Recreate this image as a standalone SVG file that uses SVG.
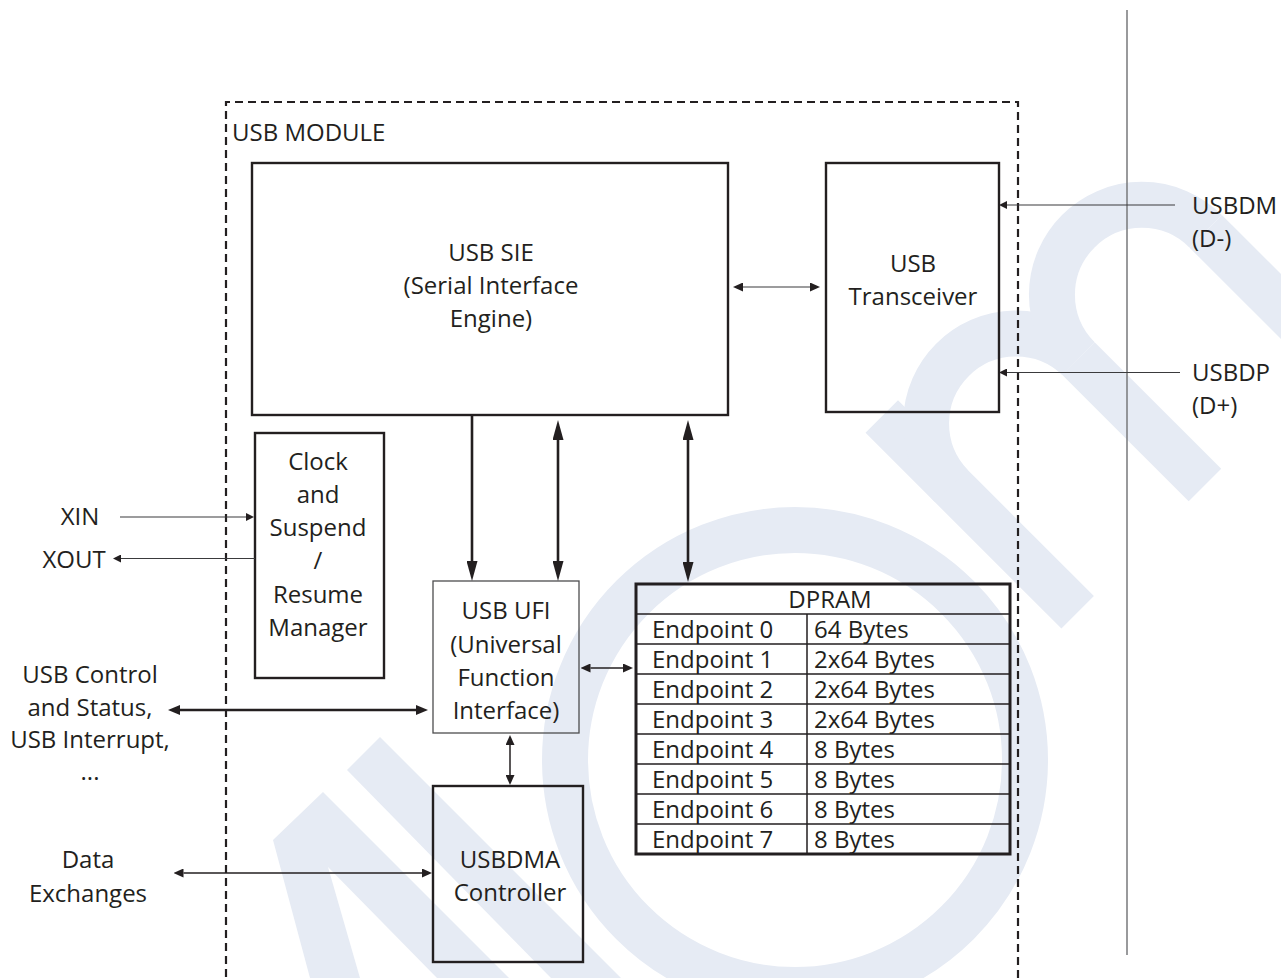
<svg xmlns="http://www.w3.org/2000/svg" width="1281" height="978" viewBox="0 0 1281 978">
  <style>
    text { font-family: "Open Sans", "Liberation Sans", sans-serif; font-size: 24px; fill: #231f20; }
    .c { text-anchor: middle; }
    .box { fill: none; stroke: #231f20; stroke-width: 2.4; }
    .thinbox { fill: none; stroke: #4d4d4f; stroke-width: 1.3; }
    .dash { fill: none; stroke: #231f20; stroke-width: 2.2; stroke-dasharray: 8 5; }
    .grid { stroke: #231f20; stroke-width: 1.5; fill: none; }
    .thick { stroke: #231f20; stroke-width: 2.6; fill: none; }
    .mid { stroke: #231f20; stroke-width: 1.5; fill: none; }
    .thin { stroke: #3a3a3c; stroke-width: 1.2; fill: none; }
    .wm { fill: #e6ebf4; stroke: none; }
    .wms { fill: none; stroke: #e6ebf4; stroke-width: 46; }
  </style>
  <defs>
    <marker id="big" viewBox="0 0 20 11" markerUnits="userSpaceOnUse" markerWidth="20" markerHeight="11" refX="0" refY="5.5" orient="auto-start-reverse">
      <path d="M0,0 L20,5.5 L0,11 z" fill="#231f20"/>
    </marker>
    <marker id="med" viewBox="0 0 12 10" markerUnits="userSpaceOnUse" markerWidth="12" markerHeight="10" refX="0" refY="5" orient="auto-start-reverse">
      <path d="M0,0 L12,5 L0,10 z" fill="#231f20"/>
    </marker>
    <marker id="sm" viewBox="0 0 10 9" markerUnits="userSpaceOnUse" markerWidth="10" markerHeight="9" refX="0" refY="4.5" orient="auto-start-reverse">
      <path d="M0,0 L10,4.5 L0,9 z" fill="#231f20"/>
    </marker>
    <marker id="tiny" viewBox="0 0 8 8" markerUnits="userSpaceOnUse" markerWidth="8" markerHeight="8" refX="0" refY="4" orient="auto-start-reverse">
      <path d="M0,0 L8,4 L0,8 z" fill="#231f20"/>
    </marker>
  </defs>

  <rect width="1281" height="978" fill="#ffffff"/>

  <g id="watermark">
    <polygon class="wm" points="273,840 323,792 509,978 437,978 328,867 360,978 310,978"/>
    <polygon class="wm" points="347,770 380,737 621,978 551,978"/>
    <circle class="wms" cx="795" cy="760" r="230"/>
    <polygon class="wm" points="865.5,432.8 898,400.2 1093.9,596.1 1061.4,628.6"/>
    <path class="wms" d="M951.1,485.8 A90,90 0 0 1 1078.3,358.5"/>
    <polygon class="wm" points="1062.1,374.8 1094.6,342.2 1221.2,468.8 1188.7,501.3"/>
    <path class="wms" d="M1078.3,358.5 A90,90 0 0 1 1205.6,231.2"/>
    <polygon class="wm" points="1189.4,247.5 1221.9,215 1348.5,341.5 1316,374"/>
  </g>

  <g id="boundary">
    <line x1="1127" y1="10" x2="1127" y2="955" stroke="#77787b" stroke-width="1.5"/>
  </g>

  <g id="usb-module">
    <path class="dash" d="M226,990 L226,102 L1018,102 L1018,990"/>
    <text x="232" y="141">USB MODULE</text>
  </g>

  <g id="usb-sie">
    <rect class="box" x="252" y="163" width="476" height="252"/>
    <text class="c" x="491" y="261">USB SIE</text>
    <text class="c" x="491" y="294">(Serial Interface</text>
    <text class="c" x="491" y="327">Engine)</text>
  </g>

  <g id="usb-transceiver">
    <rect class="box" x="826" y="163" width="173" height="249"/>
    <text class="c" x="913" y="272">USB</text>
    <text class="c" x="913" y="305">Transceiver</text>
  </g>

  <g id="clock-manager">
    <rect class="box" x="255" y="433" width="129" height="245"/>
    <text class="c" x="318" y="470">Clock</text>
    <text class="c" x="318" y="503">and</text>
    <text class="c" x="318" y="536">Suspend</text>
    <text class="c" x="318" y="569">/</text>
    <text class="c" x="318" y="603">Resume</text>
    <text class="c" x="318" y="636">Manager</text>
  </g>

  <g id="usb-ufi">
    <rect class="thinbox" x="433" y="581" width="146" height="152"/>
    <text class="c" x="506" y="619">USB UFI</text>
    <text class="c" x="506" y="653">(Universal</text>
    <text class="c" x="506" y="686">Function</text>
    <text class="c" x="506" y="719">Interface)</text>
  </g>

  <g id="usbdma-controller">
    <rect class="box" x="433" y="786" width="150" height="176"/>
    <text class="c" x="510" y="868">USBDMA</text>
    <text class="c" x="510" y="901">Controller</text>
  </g>

  <g id="dpram">
    <rect x="636" y="584" width="374" height="270" fill="none" stroke="#231f20" stroke-width="3"/>
    <path class="grid" d="M636,614 H1010 M636,644 H1010 M636,674 H1010 M636,704 H1010 M636,734 H1010 M636,764 H1010 M636,794 H1010 M636,824 H1010 M807,614 V854"/>
    <text class="c" x="830" y="608">DPRAM</text>
    <text x="652" y="638">Endpoint 0</text>
    <text x="814" y="638">64 Bytes</text>
    <text x="652" y="668">Endpoint 1</text>
    <text x="814" y="668">2x64 Bytes</text>
    <text x="652" y="698">Endpoint 2</text>
    <text x="814" y="698">2x64 Bytes</text>
    <text x="652" y="728">Endpoint 3</text>
    <text x="814" y="728">2x64 Bytes</text>
    <text x="652" y="758">Endpoint 4</text>
    <text x="814" y="758">8 Bytes</text>
    <text x="652" y="788">Endpoint 5</text>
    <text x="814" y="788">8 Bytes</text>
    <text x="652" y="818">Endpoint 6</text>
    <text x="814" y="818">8 Bytes</text>
    <text x="652" y="848">Endpoint 7</text>
    <text x="814" y="848">8 Bytes</text>
  </g>

  <g id="xin"><text class="c" x="80" y="525">XIN</text></g>
  <g id="xout"><text class="c" x="74" y="568">XOUT</text></g>
  <g id="usb-control">
    <text class="c" x="90" y="683">USB Control</text>
    <text class="c" x="90" y="716">and Status,</text>
    <text class="c" x="90" y="748">USB Interrupt,</text>
    <text class="c" x="90" y="780">...</text>
  </g>
  <g id="data-exchanges">
    <text class="c" x="88" y="868">Data</text>
    <text class="c" x="88" y="902">Exchanges</text>
  </g>
  <g id="usbdm">
    <text x="1192" y="214">USBDM</text>
    <text x="1192" y="247">(D-)</text>
  </g>
  <g id="usbdp">
    <text x="1192" y="381">USBDP</text>
    <text x="1192" y="414">(D+)</text>
  </g>

  <g id="connectors">
    <line class="thin" x1="743" y1="287" x2="810" y2="287" marker-start="url(#sm)" marker-end="url(#sm)"/>
    <line class="thin" x1="1175" y1="205" x2="1007" y2="205" marker-end="url(#tiny)"/>
    <line class="thin" x1="1180" y1="372.5" x2="1007" y2="372.5" marker-end="url(#tiny)"/>
    <line class="thick" x1="472" y1="415" x2="472" y2="561" marker-end="url(#big)"/>
    <line class="thick" x1="558" y1="440" x2="558" y2="561" marker-start="url(#big)" marker-end="url(#big)"/>
    <line class="thick" x1="688" y1="440" x2="688" y2="562" marker-start="url(#big)" marker-end="url(#big)"/>
    <line class="thin" x1="120" y1="517" x2="246" y2="517" marker-end="url(#tiny)"/>
    <line class="thin" x1="255" y1="558.5" x2="121" y2="558.5" marker-end="url(#tiny)"/>
    <line class="thick" x1="180" y1="710" x2="416" y2="710" marker-start="url(#med)" marker-end="url(#med)"/>
    <line class="mid" x1="590.5" y1="668" x2="623" y2="668" marker-start="url(#sm)" marker-end="url(#sm)"/>
    <line class="mid" x1="510" y1="745" x2="510" y2="775" marker-start="url(#sm)" marker-end="url(#sm)"/>
    <line class="mid" x1="183.5" y1="873" x2="422" y2="873" marker-start="url(#sm)" marker-end="url(#sm)"/>
  </g>
</svg>
